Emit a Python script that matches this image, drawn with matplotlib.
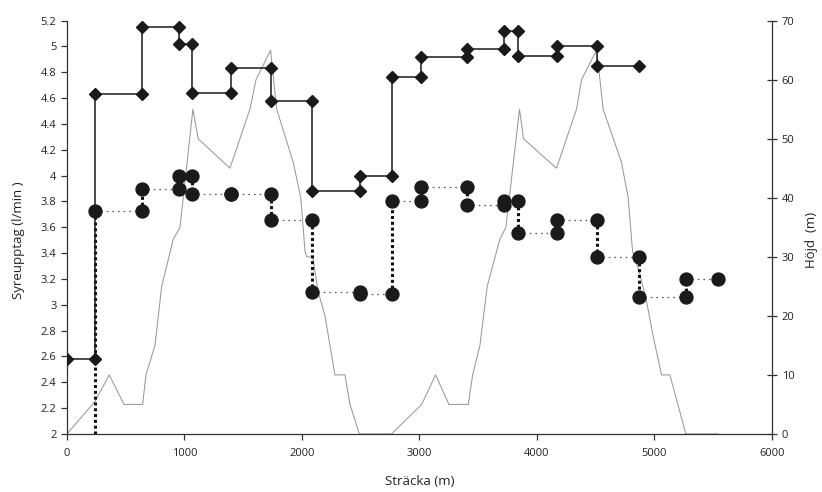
import matplotlib
matplotlib.use("Agg")
import matplotlib.pyplot as plt
from matplotlib.ticker import FuncFormatter, MultipleLocator

plt.rcParams['font.family'] = ['Open Sans', 'DejaVu Sans']

# diamonds: value held between consecutive change points (left axis)
max_x = [0, 238, 636, 953, 1066, 1393, 1733, 2088, 2494, 2763, 3015, 3402,
         3719, 3841, 4167, 4513, 4871]
max_o2 = [2.58, 4.63, 5.15, 5.02, 4.64, 4.83, 4.58, 3.88, 4.00, 4.76, 4.92,
          4.98, 5.12, 4.93, 5.00, 4.85]

# circles: same idea, dotted connections (left axis)
act_x = [238, 636, 953, 1066, 1393, 1733, 2088, 2494, 2763, 3015, 3402, 3719,
         3841, 4167, 4513, 4871, 5268, 5543]
act_o2 = [3.73, 3.90, 4.00, 3.86, 3.855, 3.66, 3.10, 3.085, 3.80, 3.91, 3.775,
          3.80, 3.555, 3.66, 3.37, 3.06, 3.20]

# height profile (right axis)
h_x = [0, 238, 360, 485, 644, 672, 749, 806, 905, 962, 1072, 1117, 1387, 1557,
       1609, 1733, 1785, 1926, 1990, 2026, 2040, 2091, 2139, 2196, 2281, 2366,
       2409, 2488, 2763, 3019, 3138, 3251, 3416, 3453, 3515, 3577, 3685, 3736,
       3852, 3886, 4167, 4337, 4380, 4508, 4531, 4564, 4720, 4777, 4814, 4877,
       4933, 4990, 5061, 5132, 5268, 5543]
h_y = [0, 5.5, 10, 5, 5, 10, 15, 25, 33, 35, 55, 50, 45, 55, 60, 65, 55, 46,
       40, 31, 30, 30, 24, 20, 10, 10, 5, 0, 0, 5, 10, 5, 5, 10, 15, 25, 33, 35,
       55, 50, 45, 55, 60, 65, 61, 55, 46, 40, 31, 27, 22.5, 16.5, 10, 10, 0, 0]

fig = plt.figure(figsize=(8.22, 4.92), dpi=100)
ax = fig.add_axes([0.0815, 0.118, 0.8575, 0.84])
ax2 = ax.twinx()
ax.set_zorder(ax2.get_zorder() + 1)
ax.patch.set_visible(False)

axis_col = '#333333'
ymin, ymax = 2.0, 5.2

# height line
ax2.plot(h_x, h_y, color='#999999', lw=0.75)

# diamond step line
xs, ys = [], []
for i, v in enumerate(max_o2):
    xs += [max_x[i], max_x[i + 1]]
    ys += [v, v]
ax.plot(xs, ys, color='#1a1a1a', lw=1.1, marker='D', ms=6.3,
        mfc='#1a1a1a', mec='#1a1a1a', zorder=4)

# circle series
prev = ymin
for i, v in enumerate(act_o2):
    x0, x1 = act_x[i], act_x[i + 1]
    ax.plot([x0, x0], [prev, v], color='#111111', lw=2.2,
            linestyle=(0, (1.0, 0.9)), zorder=3)
    ax.plot([x0, x1], [v, v], color='#555555', lw=0.9,
            linestyle=(0, (1.3, 3.2)), zorder=3)
    prev = v
for i, v in enumerate(act_o2):
    ax.plot([act_x[i], act_x[i + 1]], [v, v], ls='none', marker='o', ms=9.3,
            mfc='#1a1a1a', mec='#1a1a1a', zorder=5)

ax.set_xlim(0, 6000)
ax.set_ylim(ymin, ymax)
ax2.set_ylim(0, 70)
ax.xaxis.set_major_locator(MultipleLocator(1000))
ax.yaxis.set_major_locator(MultipleLocator(0.2))
ax2.yaxis.set_major_locator(MultipleLocator(10))
ax.yaxis.set_major_formatter(FuncFormatter(lambda v, p: f'{v:.1f}'.rstrip('0').rstrip('.')))

for a in (ax, ax2):
    a.spines['top'].set_visible(False)
    for s in a.spines.values():
        s.set_color(axis_col)
        s.set_linewidth(0.9)
ax.spines['right'].set_visible(False)
ax2.spines['left'].set_visible(False)
ax2.spines['bottom'].set_visible(False)

ax.tick_params(axis='both', direction='out', length=4, width=0.9,
               color=axis_col, labelcolor='#222222', labelsize=8)
ax2.tick_params(axis='y', direction='inout', length=7, width=0.9,
                color=axis_col, labelcolor='#222222', labelsize=8)
ax.tick_params(axis='x', pad=6)

ax.set_xlabel('Sträcka (m)', fontsize=9.5, color='#222222', labelpad=12)
ax.set_ylabel('Syreupptag (l/min )', fontsize=9.5, color='#222222')
ax.yaxis.set_label_coords(-0.06, 0.47)
ax2.set_ylabel('Höjd  (m)', fontsize=9.5, color='#222222')
ax2.yaxis.set_label_coords(1.047, 0.47)

fig.savefig('out.png', dpi=100)
